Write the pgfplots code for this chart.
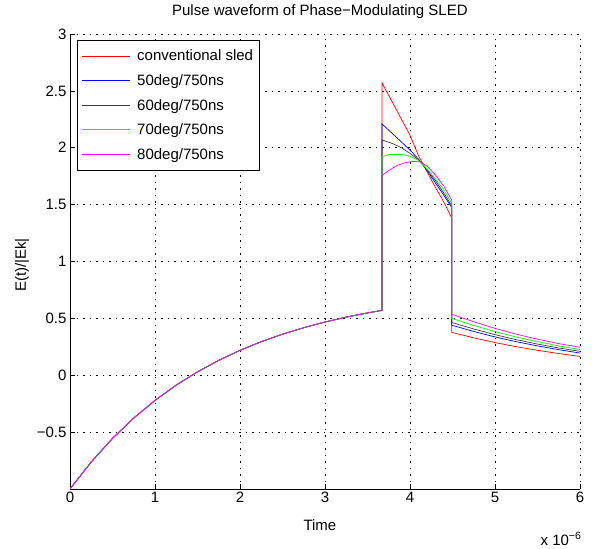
\documentclass[border=0pt]{standalone}
\usepackage{pgfplots}
\pgfplotsset{compat=1.18}
\usepackage{fontspec}
\setmainfont{Liberation Sans}
\definecolor{mred}{RGB}{255,0,0}
\definecolor{mblue}{RGB}{0,0,255}
\definecolor{mblack}{RGB}{60,60,60}
\definecolor{mgreen}{RGB}{0,255,0}
\definecolor{mmag}{RGB}{255,0,255}
\newcommand{\ff}{\fontsize{15bp}{18bp}\selectfont}
\begin{document}
\begin{tikzpicture}
\useasboundingbox (0,0) rectangle (594bp,549bp);
\begin{axis}[
  at={(70bp,60bp)}, anchor=south west,
  scale only axis, width=510bp, height=455bp,
  xmin=0, xmax=6, ymin=-1, ymax=3,
  xtick={0,1,2,3,4,5,6},
  ytick={-0.5,0,0.5,1,1.5,2,2.5,3},
  yticklabels={−0.5,0,0.5,1,1.5,2,2.5,3},
  /pgf/number format/assume math mode=true,
  axis x line*=bottom, axis y line*=left,
  axis line style={-, black, line width=0.6pt},
  tick align=inside, major tick length=5bp,
  tick style={black, line width=0.5pt},
  grid=major,
  grid style={black, line width=0.6pt, dash pattern=on 1.5bp off 5bp},
  ticklabel style={font=\ff},
  title={Pulse waveform of Phase−Modulating SLED},
  title style={at={(rel axis cs:0.49,1.035)}, anchor=center, font=\ff},
  xlabel={Time},
  xlabel style={at={(rel axis cs:0.49,-0.079)}, anchor=center, font=\ff},
  ylabel={E(t)/|Ek|},
  ylabel style={at={(rel axis cs:-0.094,0.492)}, anchor=center, font=\ff},
  legend style={at={(rel axis cs:0.0137,0.987)}, anchor=north west,
    font=\ff, inner xsep=4bp, inner ysep=8bp, row sep=8.2bp},
  legend cell align=left,
  legend image code/.code={\draw[#1, line width=1pt] plot coordinates {(0bp,0bp) (24bp,0bp) (48bp,0bp)};},
  every axis plot/.append style={line width=0.7pt},
]
\addplot[mred] coordinates {(0,-1) (0.25,-0.762) (0.5,-0.555) (0.75,-0.376) (1,-0.221) (1.25,-0.086) (1.5,0.030) (1.75,0.131) (2,0.219) (2.25,0.295) (2.5,0.361) (2.75,0.418) (3,0.468) (3.25,0.511) (3.5,0.548) (3.67,0.570)
 (3.67,2.57) (3.8,2.39) (3.9,2.25) (4.0,2.11) (4.1,1.93) (4.2,1.79) (4.3,1.65) (4.4,1.52) (4.49,1.385)
 (4.49,0.377) (4.75,0.329) (5,0.287) (5.25,0.251) (5.5,0.219) (5.75,0.191) (6,0.165)};
\addlegendentry{\hspace*{5bp}conventional sled}
\addplot[mblue] coordinates {(0,-1) (0.25,-0.762) (0.5,-0.555) (0.75,-0.376) (1,-0.221) (1.25,-0.086) (1.5,0.030) (1.75,0.131) (2,0.219) (2.25,0.295) (2.5,0.361) (2.75,0.418) (3,0.468) (3.25,0.511) (3.5,0.548) (3.67,0.570)
 (3.67,2.21) (3.8,2.12) (3.9,2.05) (4.0,1.98) (4.1,1.90) (4.2,1.80) (4.3,1.69) (4.4,1.58) (4.49,1.475)
 (4.49,0.44) (4.75,0.385) (5,0.337) (5.25,0.295) (5.5,0.258) (5.75,0.225) (6,0.195)};
\addlegendentry{\hspace*{5bp}50deg/750ns}
\addplot[mblack] coordinates {(0,-1) (0.25,-0.762) (0.5,-0.555) (0.75,-0.376) (1,-0.221) (1.25,-0.086) (1.5,0.030) (1.75,0.131) (2,0.219) (2.25,0.295) (2.5,0.361) (2.75,0.418) (3,0.468) (3.25,0.511) (3.5,0.548) (3.67,0.570)
 (3.67,2.07) (3.8,2.035) (3.9,2.00) (4.0,1.95) (4.1,1.895) (4.2,1.81) (4.3,1.71) (4.4,1.60) (4.49,1.49)
 (4.49,0.464) (4.75,0.407) (5,0.357) (5.25,0.313) (5.5,0.274) (5.75,0.240) (6,0.210)};
\addlegendentry{\hspace*{5bp}60deg/750ns}
\addplot[mgreen] coordinates {(0,-1) (0.25,-0.762) (0.5,-0.555) (0.75,-0.376) (1,-0.221) (1.25,-0.086) (1.5,0.030) (1.75,0.131) (2,0.219) (2.25,0.295) (2.5,0.361) (2.75,0.418) (3,0.468) (3.25,0.511) (3.5,0.548) (3.67,0.570)
 (3.67,1.92) (3.75,1.94) (3.92,1.94) (4.0,1.925) (4.1,1.89) (4.2,1.815) (4.3,1.725) (4.4,1.63) (4.49,1.51)
 (4.49,0.50) (4.75,0.438) (5,0.384) (5.25,0.336) (5.5,0.295) (5.75,0.258) (6,0.226)};
\addlegendentry{\hspace*{5bp}70deg/750ns}
\addplot[mmag] coordinates {(0,-1) (0.25,-0.762) (0.5,-0.555) (0.75,-0.376) (1,-0.221) (1.25,-0.086) (1.5,0.030) (1.75,0.131) (2,0.219) (2.25,0.295) (2.5,0.361) (2.75,0.418) (3,0.468) (3.25,0.511) (3.5,0.548) (3.67,0.570)
 (3.67,1.757) (3.75,1.80) (3.85,1.845) (3.95,1.87) (4.04,1.88) (4.12,1.875) (4.2,1.84) (4.3,1.76) (4.4,1.66) (4.49,1.54)
 (4.49,0.536) (4.75,0.470) (5,0.412) (5.25,0.361) (5.5,0.317) (5.75,0.278) (6,0.246)};
\addlegendentry{\hspace*{5bp}80deg/750ns}
\end{axis}
\node[font=\ff, inner sep=0pt] at (561bp,10bp) {x 10\textsuperscript{−6}};
\end{tikzpicture}
\end{document}
